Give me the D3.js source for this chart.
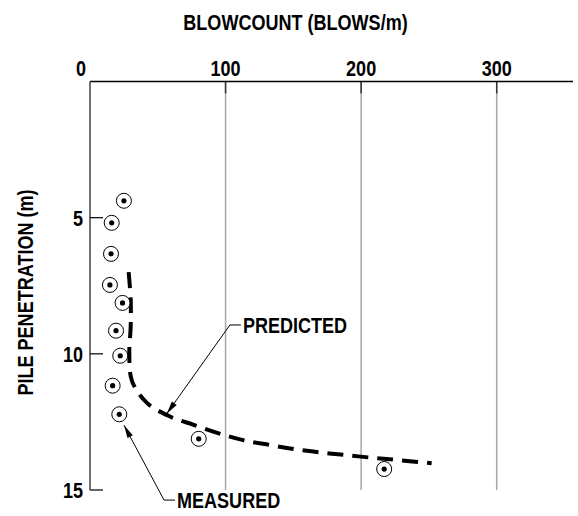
<!DOCTYPE html>
<html>
<head>
<meta charset="utf-8">
<script src="https://cdn.jsdelivr.net/npm/d3@7/dist/d3.min.js"></script>
<style>
  html, body { margin: 0; padding: 0; background: #fff; }
  svg { display: block; }
  text { font-family: "Liberation Sans Narrow", "Liberation Sans", Arial, sans-serif; font-weight: bold; fill: #000; }
</style>
</head>
<body>
<svg id="chart" width="578" height="516"></svg>
<script>
// ---- data ----
const xTickValues = [0, 100, 200, 300];
const yTickValues = [5, 10, 15];
const xTitle = "BLOWCOUNT (BLOWS/m)";
const yTitle = "PILE PENETRATION (m)";

// measured blowcounts (blows/m) and penetration depth (m)
const measuredBlows = [25, 16, 15.5, 14.7, 24, 19.2, 22.3, 16.7, 21.6, 80.2, 217];
const measuredDepth = [4.38, 5.19, 6.33, 7.47, 8.13, 9.15, 10.07, 11.17, 12.22, 13.12, 14.23];

// predicted curve
const predictedBlows = [28.5, 30, 30, 29, 31, 42, 59, 76, 95, 113, 133, 151, 170, 189, 209, 227, 252];
const predictedDepth = [7.0, 8.0, 9.0, 10.0, 11.0, 11.8, 12.3, 12.6, 12.92, 13.17, 13.35, 13.5, 13.62, 13.72, 13.82, 13.9, 14.02];

// annotations: [arrow tip, elbow] in data coords, label
const predictedNote = { label: "PREDICTED", tip: [56.6, 12.2], elbow: [103.2, 8.94] };
const measuredNote  = { label: "MEASURED",  tip: [25.1, 12.62], elbow: [54.6, 15.37] };

// ---- layout ----
const svg = d3.select("#chart");
const x = d3.scaleLinear().domain([0, 300]).range([90, 496.7]);
const y = d3.scaleLinear().domain([0, 15]).range([81.5, 490]);
const xRight = 573;
const FS = 22;

// detect whether the narrow face is really available
const probe = svg.append("text").attr("font-size", FS).text("PREDICTED");
const probeW = probe.node().getComputedTextLength();
probe.remove();
const SX = probeW / FS > 5.2 ? 0.82 : 1; // compress if regular width fell back

function label(g, txt, px, py, anchor, extra) {
  const t = g.append("g").attr("transform", `translate(${px},${py}) ${extra || ""} scale(${SX},1)`);
  t.append("text").attr("text-anchor", anchor).attr("font-size", FS).text(txt);
  return t;
}

// grid lines (light)
svg.append("g").selectAll("line").data(xTickValues.filter(d => d > 0)).join("line")
  .attr("x1", d => x(d)).attr("x2", d => x(d))
  .attr("y1", y(0)).attr("y2", y(15))
  .attr("stroke", "#a8a8a8").attr("stroke-width", 1.5);

// top ticks (dark short)
svg.append("g").selectAll("line").data(xTickValues.filter(d => d > 0)).join("line")
  .attr("x1", d => x(d)).attr("x2", d => x(d))
  .attr("y1", y(0)).attr("y2", y(0) + 12)
  .attr("stroke", "#333").attr("stroke-width", 1.5);

// top axis line
svg.append("line").attr("x1", x(0)).attr("x2", xRight).attr("y1", y(0)).attr("y2", y(0))
  .attr("stroke", "#000").attr("stroke-width", 1.5);
// left axis line
svg.append("line").attr("x1", x(0)).attr("x2", x(0)).attr("y1", y(0)).attr("y2", y(15))
  .attr("stroke", "#444").attr("stroke-width", 1.5);

// left ticks (inward)
svg.append("g").selectAll("line").data(yTickValues).join("line")
  .attr("x1", x(0)).attr("x2", x(0) + 13)
  .attr("y1", d => y(d)).attr("y2", d => y(d))
  .attr("stroke", "#000").attr("stroke-width", 1.2);

// tick labels
const tl = svg.append("g");
xTickValues.forEach(v => label(tl, String(v), x(v) + (v === 0 ? -9 : 0), y(0) - 5.5, "middle"));
yTickValues.forEach(v => label(tl, String(v), x(0) - 7, y(v) + 8, "end"));

// titles
label(svg, xTitle, 295.5, 30, "middle");
label(svg, yTitle, 33, 292.5, "middle", "rotate(-90)");

// predicted curve
const predicted = predictedBlows.map((b, i) => [b, predictedDepth[i]]);
svg.append("path")
  .datum(predicted)
  .attr("d", d3.line().x(d => x(d[0])).y(d => y(d[1])).curve(d3.curveCatmullRom.alpha(0.5)))
  .attr("fill", "none").attr("stroke", "#000").attr("stroke-width", 4)
  .attr("stroke-dasharray", "16,9");

// measured points
const measured = measuredBlows.map((b, i) => [b, measuredDepth[i]]);
const pts = svg.append("g").selectAll("g").data(measured).join("g")
  .attr("transform", d => `translate(${x(d[0])},${y(d[1])})`);
pts.append("circle").attr("r", 7.5).attr("fill", "#fff").attr("stroke", "#000").attr("stroke-width", 1);
pts.append("circle").attr("r", 2.6).attr("fill", "#000");

// annotations
function note(n) {
  const tip = [x(n.tip[0]), y(n.tip[1])];
  const el = [x(n.elbow[0]), y(n.elbow[1])];
  const g = svg.append("g");
  g.append("polyline")
    .attr("points", [[el[0] + 11, el[1]], el, tip].map(p => p.join(",")).join(" "))
    .attr("fill", "none").attr("stroke", "#000").attr("stroke-width", 1);
  const ang = Math.atan2(tip[1] - el[1], tip[0] - el[0]);
  const L = 13, W = 3;
  const bx = tip[0] - L * Math.cos(ang), by = tip[1] - L * Math.sin(ang);
  const nx = -Math.sin(ang) * W, ny = Math.cos(ang) * W;
  g.append("polygon")
    .attr("points", [tip, [bx + nx, by + ny], [bx - nx, by - ny]].map(p => p.join(",")).join(" "))
    .attr("fill", "#000");
  label(g, n.label, el[0] + 13, el[1] + 8, "start");
}
note(predictedNote);
note(measuredNote);
</script>
</body>
</html>
